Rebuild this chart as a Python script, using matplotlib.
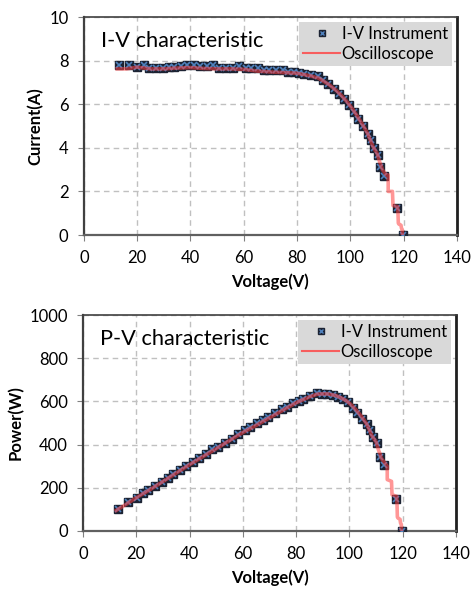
import matplotlib.pyplot as plt

plt.rcParams['font.family'] = ['Lato', 'DejaVu Sans']

# I-V instrument readings (voltage V, current A, power W)
inst_v = [13.3, 17.0, 20.1, 22.4, 24.5, 27.0, 29.5, 32.0, 33.9, 36.4, 38.7, 41.2,
          43.7, 46.2, 48.3, 50.8, 53.3, 55.8, 58.3, 60.8, 62.7, 65.2, 67.5, 69.6,
          72.1, 74.6, 76.7, 79.0, 80.9, 82.7, 85.2, 87.7, 89.6, 91.5, 94.0, 95.9,
          97.7, 99.6, 101.5, 103.0, 104.6, 106.5, 107.8, 109.0, 110.5, 111.3,
          112.8, 117.4, 119.6]
inst_i = [7.80, 7.82, 7.70, 7.82, 7.68, 7.66, 7.66, 7.72, 7.72, 7.76, 7.82, 7.80,
          7.76, 7.74, 7.82, 7.66, 7.68, 7.66, 7.74, 7.68, 7.66, 7.64, 7.58, 7.56,
          7.56, 7.55, 7.50, 7.48, 7.45, 7.40, 7.34, 7.28, 7.10, 6.94, 6.72, 6.48,
          6.25, 5.98, 5.62, 5.30, 4.98, 4.65, 4.35, 3.99, 3.68, 3.10,
          2.70, 1.25, 0.0]
inst_p = [104, 133, 155, 175, 188, 207, 226, 247, 262, 283, 303, 321,
          339, 358, 378, 389, 409, 427, 451, 467, 480, 498, 512, 526,
          545, 563, 575, 591, 603, 612, 625, 638, 636, 635, 632, 621,
          611, 596, 570, 546, 521, 495, 469, 435, 407, 345,
          305, 147, 0]

# oscilloscope trace
osc_v = [12.5, 16, 20, 25, 30, 35, 40, 45, 50, 55, 60, 65, 70, 75, 80, 85, 88,
         90, 92, 95, 97, 99, 101, 103, 105, 106.5, 107.5, 108.5, 110, 110.5,
         111, 111.5, 112, 113.5, 114.2, 114.2, 115.8, 116.0, 117.8, 118.0,
         118.2, 119.0, 119.2, 119.5, 119.5]
osc_i = [7.62, 7.62, 7.70, 7.62, 7.62, 7.66, 7.68, 7.64, 7.62, 7.62, 7.60, 7.52,
         7.48, 7.45, 7.42, 7.30, 7.20, 7.05, 6.90, 6.60, 6.35, 6.08, 5.75, 5.38,
         4.98, 4.65, 4.35, 4.05, 3.75, 3.55, 3.35, 3.20, 3.00, 2.75, 2.75, 2.00,
         2.00, 1.35, 1.30, 0.55, 0.50, 0.45, 0.30, 0.25, 0.0]
osc_p = [95, 122, 154, 190, 229, 268, 307, 344, 381, 419, 456, 489, 524, 559,
         594, 621, 634, 635, 635, 627, 616, 602, 581, 554, 523, 495, 468, 439,
         413, 392, 372, 357, 336, 312, 300, 238, 230, 168, 160, 65, 60, 54, 36,
         30, 0]

BLUE = '#4f81bd'
DARK = '#1c2333'
RED = '#ff4040'


def style_axes(ax, ymax, ystep):
    ax.set_xlim(0, 140)
    ax.set_ylim(0, ymax)
    ax.set_xticks(range(0, 141, 20))
    ax.set_yticks(range(0, ymax + 1, ystep))
    ax.grid(True, ls=(0, (4, 3)), color='#c0c0c0', lw=1)
    ax.set_axisbelow(True)
    ax.tick_params(direction='out', length=4, color='#808080',
                   labelsize=12, pad=7)
    ax.spines['left'].set_color('#404040')
    ax.spines['bottom'].set_color('#606060')
    ax.spines['right'].set_color('#202020')
    ax.spines['top'].set_color('#404040')
    ax.spines['left'].set_linewidth(1.6)
    ax.spines['bottom'].set_linewidth(1.6)
    ax.spines['right'].set_linewidth(2)
    ax.spines['top'].set_linewidth(1.2)
    ax.set_xlabel('Voltage(V)', fontsize=12, fontweight='bold', labelpad=5)


def draw(ax, yv, oscy, title):
    ax.plot(inst_v, yv, 's', color=DARK, ms=6, mec=DARK, zorder=3)
    ax.plot(inst_v, yv, 'x', color=BLUE, ms=4.5, mew=1.2, zorder=4)
    ax.plot(osc_v, oscy, '-', color=RED, lw=2.6, alpha=0.55, zorder=5)
    # legend proxies
    h1 = plt.Line2D([], [], marker='s', ls='none', color=DARK, ms=5)
    h1x = plt.Line2D([], [], marker='x', ls='none', color=BLUE, ms=3.5, mew=1)
    h2 = plt.Line2D([], [], color=RED, lw=1.5, alpha=0.8)
    leg = ax.legend([(h1, h1x), h2], ['I-V Instrument', 'Oscilloscope'],
                    loc='upper right', fontsize=12, frameon=True, fancybox=False,
                    borderaxespad=0.3, handlelength=2.2, handletextpad=0.1,
                    borderpad=0.25, labelspacing=0.2)
    leg.get_frame().set_facecolor('#d9d9d9')
    leg.get_frame().set_edgecolor('none')
    leg.get_frame().set_alpha(1)
    ax.text(0.045, 0.89, title, transform=ax.transAxes, fontsize=15.7,
            va='center', ha='left')


fig = plt.figure(figsize=(4.74, 5.93), dpi=100)
ax1 = fig.add_axes([0.177, 0.6037, 0.787, 0.3676])
ax2 = fig.add_axes([0.175, 0.1046, 0.787, 0.364])

style_axes(ax1, 10, 2)
draw(ax1, inst_i, osc_i, 'I-V characteristic')
ax1.set_ylabel('Current(A)', fontsize=12, fontweight='bold', labelpad=4)

style_axes(ax2, 1000, 200)
draw(ax2, inst_p, osc_p, 'P-V characteristic')
ax2.set_ylabel('Power(W)', fontsize=12, fontweight='bold', labelpad=4)

fig.savefig('out.png', dpi=100)
